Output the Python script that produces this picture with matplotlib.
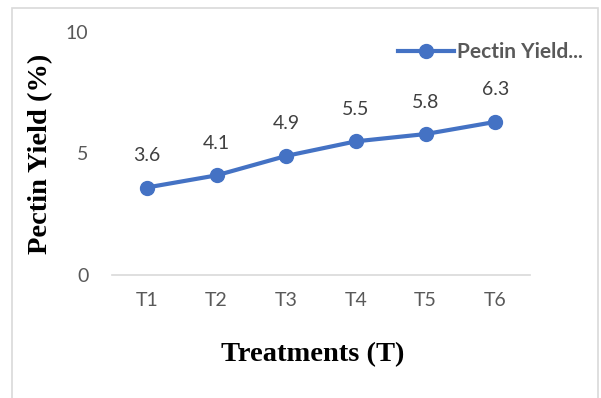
import matplotlib.pyplot as plt
from matplotlib.patches import Rectangle

# data
treatments = ['T1', 'T2', 'T3', 'T4', 'T5', 'T6']
pectin_yield = [3.6, 4.1, 4.9, 5.5, 5.8, 6.3]

blue = '#4472C4'
gray = '#595959'

fig = plt.figure(figsize=(6.01, 3.98), dpi=100)
ax = fig.add_axes([112 / 601, 1 - 275 / 398, 418 / 601, 243 / 398])

# outer chart frame
fig.patches.append(Rectangle((12 / 601, -0.05), 586 / 601, 1.05 - 8 / 398,
                             transform=fig.transFigure, fill=False,
                             edgecolor='#d9d9d9', linewidth=1.2))

x = range(len(treatments))
ax.plot(x, pectin_yield, color=blue, linewidth=3, marker='o', markersize=10,
        label='Pectin Yield...')

for xi, v in zip(x, pectin_yield):
    ax.annotate(f'{v}', (xi, v), xytext=(0, 23), textcoords='offset points',
                ha='center', va='center', fontsize=14, color='#404040',
                family='Lato')

ax.set_xlim(-0.5, len(treatments) - 0.5)
ax.set_ylim(0, 10)
ax.set_yticks([0, 5, 10])
ax.set_xticks(list(x))
ax.set_xticklabels(treatments)

for s in ['top', 'right', 'left']:
    ax.spines[s].set_visible(False)
ax.spines['bottom'].set_color('#d9d9d9')
ax.spines['bottom'].set_linewidth(1.2)
ax.tick_params(length=0, labelsize=14, labelcolor=gray)
ax.tick_params(axis='y', pad=17)
ax.tick_params(axis='x', pad=12)
for lab in ax.get_xticklabels() + ax.get_yticklabels():
    lab.set_family('Lato')

ax.set_xlabel('Treatments (T)', family='Liberation Serif', fontweight='bold',
              fontsize=20.5, color='black')
ax.xaxis.set_label_coords(0.481, -0.275)
ax.set_ylabel('Pectin Yield (%)', family='Liberation Serif', fontweight='bold',
              fontsize=20.5, color='black', labelpad=9)

leg = ax.legend(loc='center left', bbox_to_anchor=(0.684, 0.918), frameon=False,
                borderaxespad=0, borderpad=0,
                handlelength=2.7, handletextpad=0.15,
                prop={'family': 'Lato', 'weight': 'bold', 'size': 15})
for t in leg.get_texts():
    t.set_color(gray)

fig.savefig('out.png', dpi=100)
